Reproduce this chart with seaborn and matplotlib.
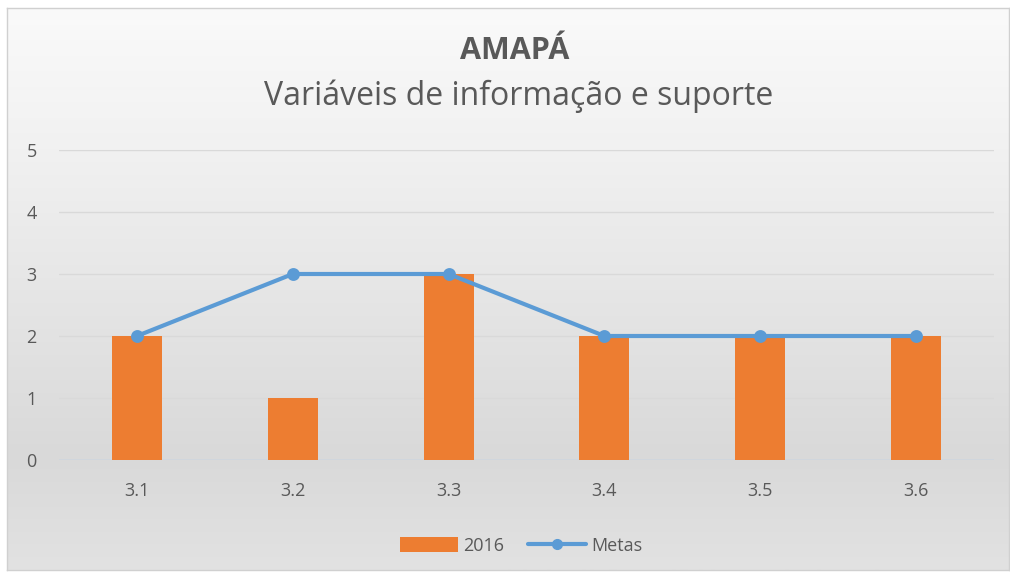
import numpy as np
import matplotlib
matplotlib.use("Agg")
import matplotlib.pyplot as plt
from matplotlib.colors import LinearSegmentedColormap
from matplotlib.patches import Patch
from matplotlib.lines import Line2D
import seaborn as sns

categories = ["3.1", "3.2", "3.3", "3.4", "3.5", "3.6"]
valores_2016 = [2, 1, 3, 2, 2, 2]
metas = [2, 3, 3, 2, 2, 2]
y_ticks = [0, 1, 2, 3, 4, 5]

title = "AMAPÁ"
subtitle = "Variáveis de informação e suporte"

bar_color = "#ed7d31"
line_color = "#5b9bd5"
text_color = "#595959"
grid_color = "#d9d9d9"

sns.set_theme(style="white")
plt.rcParams["font.family"] = ["Open Sans", "DejaVu Sans"]

W, H = 1010, 577
fig = plt.figure(figsize=(W / 100, H / 100), dpi=100, facecolor="white")

# gradient chart-area background with a thin frame
bg = fig.add_axes([7 / W, 7 / H, (W - 8) / W, (H - 15) / H])
grad = LinearSegmentedColormap.from_list(
    "bg", [(0.0, "#e2e2e2"), (0.2, "#d9d9d9"), (0.75, "#f1f1f1"), (1.0, "#fafafa")]
)
bg.imshow(np.linspace(0, 1, 256).reshape(-1, 1), cmap=grad, aspect="auto",
          origin="lower", extent=[0, 1, 0, 1])
bg.set_xlim(0, 1)
bg.set_ylim(0, 1)
bg.set_xticks([])
bg.set_yticks([])
for s in bg.spines.values():
    s.set_color("#d0d0d0")
    s.set_linewidth(1)

ax = fig.add_axes([59 / W, 1 - 460 / H, (994 - 59) / W, (460 - 150) / H])
ax.patch.set_alpha(0)

sns.barplot(x=categories, y=valores_2016, color=bar_color, width=0.32,
            saturation=1, linewidth=0, ax=ax, zorder=3)
sns.pointplot(x=categories, y=metas, color=line_color, markers="o",
              linestyles="-", linewidth=3, markersize=7, ax=ax, zorder=4)

ax.set_ylim(0, 5)
ax.set_xlim(-0.5, 5.5)
ax.set_yticks(y_ticks)
ax.yaxis.grid(True, color=grid_color, linewidth=1)
ax.set_axisbelow(True)
for s in ax.spines.values():
    s.set_visible(False)
ax.axhline(0, color="#cfd6de", linewidth=1.2, zorder=2)
ax.tick_params(axis="both", length=0, labelsize=13, labelcolor=text_color)
ax.tick_params(axis="y", pad=16)
ax.tick_params(axis="x", pad=16)
ax.set_xlabel("")
ax.set_ylabel("")

fig.text(515 / W, 1 - 51 / H, title, ha="center", va="center", fontsize=22,
         fontweight="bold", color=text_color)
fig.text(519 / W, 1 - 96 / H, subtitle, ha="center", va="center", fontsize=23,
         color=text_color)

handles = [
    Patch(facecolor=bar_color, edgecolor="none"),
    Line2D([0], [0], color=line_color, linewidth=3, marker="o", markersize=7),
]
fig.legend(handles, ["2016", "Metas"], loc="center", bbox_to_anchor=(0.516, 1 - 546 / H),
           ncol=2, frameon=False, fontsize=13, labelcolor=text_color,
           handlelength=3.2, handleheight=0.9, columnspacing=1.3, handletextpad=0.3)

fig.savefig("out.png", dpi=100, facecolor="white")
